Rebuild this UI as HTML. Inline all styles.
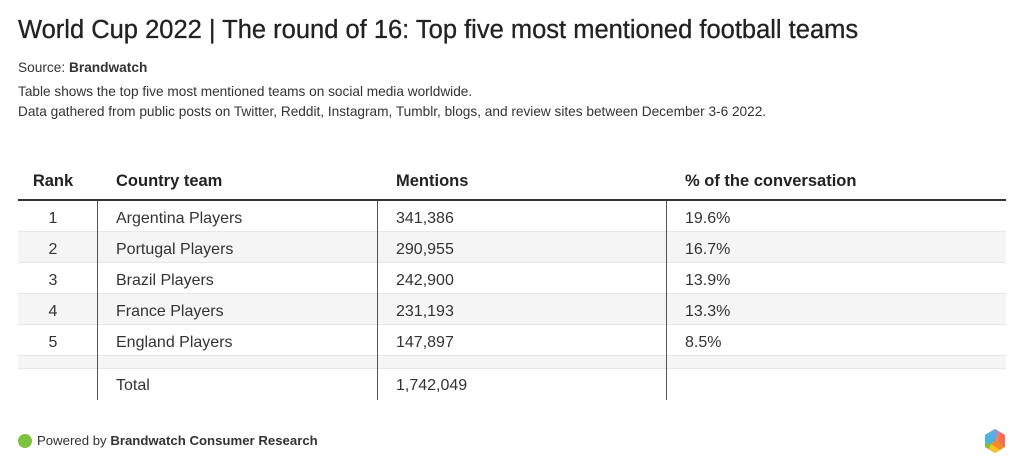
<!DOCTYPE html>
<html><head><meta charset="utf-8"><style>
body{margin:0;width:1024px;height:475px;background:#fff;font-family:"Liberation Sans",sans-serif;color:#222;position:relative;overflow:hidden}
.a{position:absolute;white-space:nowrap}
.cell{position:absolute;font-size:16px;line-height:31px;color:#333;padding-top:2px}
.hd{position:absolute;font-size:16.5px;font-weight:bold;color:#222;top:169px;line-height:24px}
.vl{position:absolute;width:1px;background:#555;top:201px;height:199px}
</style></head><body>
<div class="a" style="left:18px;top:16px;font-size:25.5px;color:#222;-webkit-text-stroke:0.3px #222">World Cup 2022 | The round of 16: Top five most mentioned football teams</div>
<div class="a" style="left:18px;top:60px;font-size:13.7px;color:#333">Source: <b>Brandwatch</b></div>
<div class="a" style="left:18px;top:82px;font-size:13.65px;line-height:20px;color:#333">Table shows the top five most mentioned teams on social media worldwide.<br>Data gathered from public posts on Twitter, Reddit, Instagram, Tumblr, blogs, and review sites between December 3-6 2022.</div>
<div id="tbl">
<div class="hd" style="left:18px;width:70px;text-align:center">Rank</div>
<div class="hd" style="left:116px">Country team</div>
<div class="hd" style="left:396px">Mentions</div>
<div class="hd" style="left:685px">% of the conversation</div>
<div class="a" style="left:18px;top:199px;width:988px;height:2px;background:#333"></div>
</div>
<div class="a" style="left:18px;top:434px;width:14px;height:14px;border-radius:50%;background:#7cc23f"></div>
<div class="a" style="left:37px;top:433px;font-size:13.2px;color:#333">Powered by <b>Brandwatch Consumer Research</b></div>
<svg class="a" style="left:983px;top:428px" width="24" height="26" viewBox="0 0 24 26">
<polygon points="12,1 22,7 22,19 12,25 2,19 2,7" fill="#f08a2c"/>
<polygon points="12,1 2,7 2,19 12,13" fill="#4fb3e0"/>
<polygon points="12,1 17,4 12,13" fill="#a98ad0"/>
<polygon points="17,4 22,7 22,19 16,14" fill="#f26b5b"/>
<polygon points="2,19 6,21 8,16 2,15" fill="#7cc23f"/>
<polygon points="6,21 12,25 17,22 8,16" fill="#fcc31e"/>
</svg>
<script>
const ranks=["1","2","3","4","5"];
const teams=["Argentina Players","Portugal Players","Brazil Players","France Players","England Players"];
const mentions=[341386,290955,242900,231193,147897];
const percents=[19.6,16.7,13.9,13.3,8.5];
const total=1742049;
const tbl=document.getElementById('tbl');
function add(cls,txt,left,top,extra){const d=document.createElement('div');d.className=cls;d.textContent=txt;d.style.left=left+'px';d.style.top=top+'px';if(extra)d.style.cssText+=extra;tbl.appendChild(d);return d;}
const fmt=n=>n.toLocaleString('en-US');
for(let i=0;i<=5;i++){
  const y=201+i*31;
  const h=i<5?31:13;
  const bg=document.createElement('div');
  
  
  bg.className='a';
  bg.style.cssText=`left:18px;top:${y}px;width:988px;height:${h}px;background:${i%2?'#f5f5f5':'#fff'};border-bottom:1px solid #e6e6e6;box-sizing:border-box`;
  tbl.appendChild(bg);
}
ranks.forEach((r,i)=>{
  const y=201+i*31;
  let e=add('cell',r,18,y,'width:70px;text-align:center');
  
  
  e=add('cell',teams[i],116,y);
  
  
  e=add('cell',fmt(mentions[i]),396,y);
  
  
  e=add('cell',percents[i].toFixed(1)+'%',685,y);
  
  
});
let t=add('cell','Total',116,368);


t=add('cell',fmt(total),396,368);


[97,377,666].forEach(x=>{
  const v=document.createElement('div');
  v.className='vl';
  v.style.left=x+'px';
  
  
  tbl.appendChild(v);
});
</script>
</body></html>
